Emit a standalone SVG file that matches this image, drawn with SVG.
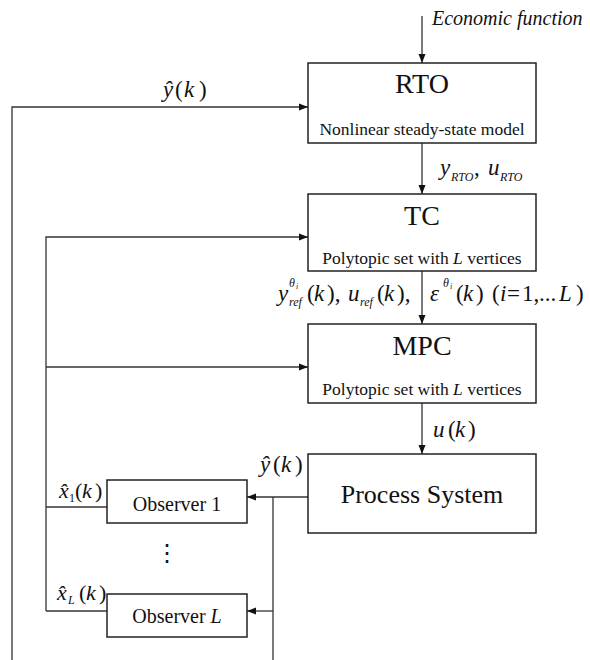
<svg xmlns="http://www.w3.org/2000/svg" width="590" height="660" viewBox="0 0 590 660">
<style>
.box{fill:#fff;stroke:#222;stroke-width:1.5}
.ln{fill:none;stroke:#333;stroke-width:1.3}
.arr{marker-end:url(#ah)}
text{font-family:"Liberation Serif","Times New Roman",serif;fill:#111}
.it{font-style:italic}
.title{font-size:28px;text-anchor:middle}
.sub{font-size:17.5px;text-anchor:middle}
.m{font-size:23px}
.s{font-size:12px;font-style:italic}
.ss{font-size:8px;font-style:italic}
.obs{font-size:20px;text-anchor:middle}
</style>
<defs>
<marker id="ah" markerUnits="userSpaceOnUse" markerWidth="10" markerHeight="8" refX="9" refY="4" orient="auto">
<path d="M0,0.5 L9,4 L0,7.5 Z" fill="#111"/>
</marker>
</defs>
<rect width="590" height="660" fill="#fff"/>
<g id="connectors">
<path class="ln arr" d="M422,16 V63"/>
<path class="ln arr" d="M422,143 V194"/>
<path class="ln arr" d="M422,271 V324"/>
<path class="ln arr" d="M422,403 V454"/>
<path class="ln arr" d="M12,660 V107 H308"/>
<path class="ln arr" d="M46,611 V237 H308"/>
<path class="ln arr" d="M46,367 H308"/>
<path class="ln" d="M107,507 H46"/>
<path class="ln" d="M107,611 H46"/>
<path class="ln arr" d="M308,497 H247"/>
<path class="ln" d="M273,497 V660"/>
<path class="ln arr" d="M273,611 H247"/>
</g>
<g id="rto">
<rect class="box" x="308" y="63" width="228" height="80"/>
<text class="title" x="422" y="93">RTO</text>
<text class="sub" x="422" y="135">Nonlinear steady-state model</text>
</g>
<g id="tc">
<rect class="box" x="308" y="194" width="228" height="77"/>
<text class="title" x="422" y="225">TC</text>
<text class="sub" x="422" y="264">Polytopic set with <tspan class="it">L</tspan> vertices</text>
</g>
<g id="mpc">
<rect class="box" x="308" y="324" width="228" height="79"/>
<text class="title" x="422" y="355">MPC</text>
<text class="sub" x="422" y="395">Polytopic set with <tspan class="it">L</tspan> vertices</text>
</g>
<g id="process">
<rect class="box" x="308" y="454" width="228" height="79"/>
<text x="422" y="503" font-size="26" text-anchor="middle">Process System</text>
</g>
<g id="observer1">
<rect class="box" x="107" y="480" width="140" height="43"/>
<text class="obs" x="177" y="511">Observer 1</text>
</g>
<g id="observerL">
<rect class="box" x="107" y="594" width="140" height="43"/>
<text class="obs" x="177" y="623">Observer <tspan class="it">L</tspan></text>
</g>
<g id="labels">
<text class="it" x="432" y="25" font-size="20">Economic function</text>
<text class="m" y="97"><tspan class="it" x="163">ŷ</tspan><tspan x="175">(</tspan><tspan class="it" x="184">k</tspan><tspan x="199">)</tspan></text>
<text class="m it" x="440" y="175">y</text><text class="s" x="451" y="181" font-size="10">RTO</text><text class="m" x="474" y="175">,</text><text class="m it" x="488" y="175">u</text><text class="s" x="500" y="181" font-size="10">RTO</text>
<text class="m it" x="278" y="301">y</text><text class="s" x="289" y="306">ref</text><text class="it" x="289" y="287" font-size="12">θ</text><text class="ss" x="296" y="289">i</text>
<text class="m" y="301"><tspan x="307">(</tspan><tspan class="it" x="314">k</tspan><tspan x="327">),</tspan></text>
<text class="m it" x="348" y="301">u</text><text class="s" x="360" y="306">ref</text>
<text class="m" y="301"><tspan x="377">(</tspan><tspan class="it" x="384">k</tspan><tspan x="397">),</tspan></text>
<text class="m it" x="430" y="301">ε</text><text class="it" x="443" y="287" font-size="12">θ</text><text class="ss" x="450" y="289">i</text>
<text class="m" y="301"><tspan x="456">(</tspan><tspan class="it" x="463">k</tspan><tspan x="476">)</tspan></text>
<text class="m" y="301"><tspan x="492">(</tspan><tspan class="it" x="500">i</tspan><tspan x="507">=</tspan><tspan x="522">1,</tspan><tspan x="539">...</tspan><tspan class="it" x="559">L</tspan><tspan x="576">)</tspan></text>
<text class="m" y="437"><tspan class="it" x="433">u</tspan><tspan x="448">(</tspan><tspan class="it" x="455">k</tspan><tspan x="468">)</tspan></text>
<text class="m" y="472"><tspan class="it" x="260">ŷ</tspan><tspan x="273">(</tspan><tspan class="it" x="281">k</tspan><tspan x="295">)</tspan></text>
<text font-size="22" x="59" y="498" class="it">x̂</text><text font-size="12" x="69" y="502">1</text><text font-size="22" y="498"><tspan x="75">(</tspan><tspan class="it" x="82">k</tspan><tspan x="95">)</tspan></text>
<text font-size="22" x="57" y="600" class="it">x̂</text><text class="s" x="68" y="604">L</text><text font-size="22" y="600"><tspan x="79">(</tspan><tspan class="it" x="86">k</tspan><tspan x="99">)</tspan></text>
<text font-size="24" x="167" y="561" text-anchor="middle">⋮</text>
</g>
</svg>
